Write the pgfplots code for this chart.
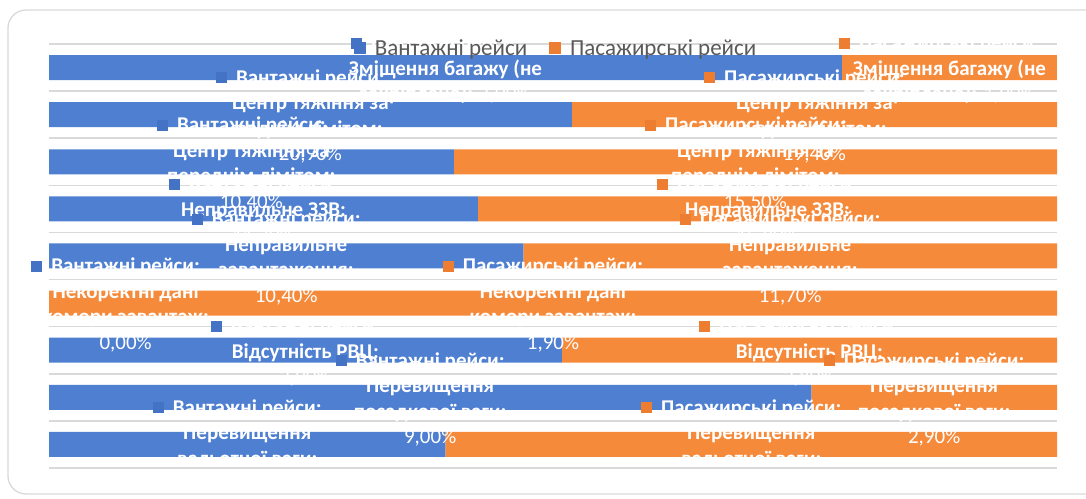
\documentclass[border=0pt]{standalone}
\usepackage{pgfplots}
\pgfplotsset{compat=1.18}
\usepackage{pgfplotstable}
\usepackage{fontspec}
\setmainfont{Carlito}

\definecolor{barblue}{HTML}{4F7FD0}
\definecolor{barorange}{HTML}{F68A3B}
\definecolor{mkblue}{HTML}{4472C4}
\definecolor{mkorange}{HTML}{ED7D31}
\definecolor{gridgray}{HTML}{D9D9D9}
\definecolor{legtext}{HTML}{595959}

% little colour keys that hang left of the first label line
\newcommand\mkb{\llap{\textcolor{mkblue}{\rule[1pt]{11pt}{11pt}}\hspace{9pt}}}
\newcommand\mko{\llap{\textcolor{mkorange}{\rule[1pt]{11pt}{11pt}}\hspace{9pt}}}

% b = Вантажні рейси, o = Пасажирські рейси (values in %)
\pgfplotstableread[col sep=semicolon]{
idx;b;o;bl;ol
1;7.0;1.9;\mkb Вантажні рейси:\\Зміщення багажу (не\\закріплено): {\mdseries 7,00\%};\mko Пасажирські рейси:\\Зміщення багажу (не\\закріплено): {\mdseries 1,90\%}
2;20.9;19.4;\mkb Вантажні рейси:\\Центр тяжіння за\\заднім лімітом:\\{\mdseries 20,90\%};\mko Пасажирські рейси:\\Центр тяжіння за\\заднім лімітом:\\{\mdseries 19,40\%}
3;10.4;15.5;\mkb Вантажні рейси:\\Центр тяжіння за\\переднім лімітом:\\{\mdseries 10,40\%};\mko Пасажирські рейси:\\Центр тяжіння за\\переднім лімітом:\\{\mdseries 15,50\%}
4;11.7;15.8;\mkb Вантажні рейси:\\Неправильне ЗЗВ:\\{\mdseries 11,70\%};\mko Пасажирські рейси:\\Неправильне ЗЗВ:\\{\mdseries 15,80\%}
5;10.4;11.7;\mkb Вантажні рейси:\\Неправильне\\завантаження:\\{\mdseries 10,40\%};\mko Пасажирські рейси:\\Неправильне\\завантаження:\\{\mdseries 11,70\%}
6;0.0;1.9;\mkb Вантажні рейси:\\Некоректні дані\\комори завантаж:\\{\mdseries 0,00\%};\mko Пасажирські рейси:\\Некоректні дані\\комори завантаж:\\{\mdseries 1,90\%}
7;2.9;2.8;\mkb Вантажні рейси:\\Відсутність РВЦ:\\{\mdseries 2,90\%};\mko Пасажирські рейси:\\Відсутність РВЦ:\\{\mdseries 2,80\%}
8;9.0;2.9;\mkb Вантажні рейси:\\Перевищення\\посадкової ваги:\\{\mdseries 9,00\%};\mko Пасажирські рейси:\\Перевищення\\посадкової ваги:\\{\mdseries 2,90\%}
9;5.9;9.1;\mkb Вантажні рейси:\\Перевищення\\вальотної ваги:\\{\mdseries 5,90\%};\mko Пасажирські рейси:\\Перевищення\\вальотної ваги:\\{\mdseries 9,10\%}
}\data

\begin{document}
\begin{tikzpicture}
\useasboundingbox (0,0) rectangle (1086pt,498pt);
\draw[gridgray, line width=1.3pt, rounded corners=18pt] (8pt,4pt) rectangle (1110pt,488pt);

\pgfplotsset{
    common/.style={
        at={(49pt,454pt)}, anchor=north west,
        scale only axis, width=1008pt, height=424pt,
        xmin=0, xmax=100, ymin=0.5, ymax=9.5, y dir=reverse,
    },
    lbl/.style={draw=none, mark=none, nodes near coords, point meta=explicit symbolic,
        every node near coord/.append style={anchor=center, align=center, text=white,
            inner sep=0pt, yshift=-2pt, font=\fontsize{21}{25.5}\selectfont\bfseries}},
}

% bars
\begin{axis}[
    common,
    xbar stacked,
    bar width=25pt,
    axis line style={draw=none},
    xtick=\empty,
    ytick={0.5,1.5,...,9.5},
    yticklabels={},
    major tick length=0pt,
    ymajorgrids,
    grid style={gridgray, line width=1.6pt},
]
    \addplot[fill=barblue, draw=none]
        table[x expr={100*\thisrow{b}/(\thisrow{b}+\thisrow{o})}, y=idx] {\data};
    \addplot[fill=barorange, draw=none]
        table[x expr={100*\thisrow{o}/(\thisrow{b}+\thisrow{o})}, y=idx] {\data};
\end{axis}

% data labels and legend
\begin{axis}[
    common,
    hide axis,
    clip=false,
    legend style={at={(0.503,0.99)}, anchor=center, draw=none, fill=none,
        legend columns=-1, text=legtext,
        font=\fontsize{23}{26}\selectfont,
        /tikz/every even column/.append style={column sep=20pt}},
    legend image code/.code={\fill[#1] (0pt,-6pt) rectangle (12pt,6pt); \path (19pt,0pt);},
]
    \addlegendimage{fill=mkblue, draw=none}
    \addlegendentry{Вантажні рейси}
    \addlegendimage{fill=mkorange, draw=none}
    \addlegendentry{Пасажирські рейси}

    \addplot[lbl] table[x expr={max(50*\thisrow{b}/(\thisrow{b}+\thisrow{o}),7.6)}, y=idx, meta=bl] {\data};
    \addplot[lbl] table[x expr={100-50*\thisrow{o}/(\thisrow{b}+\thisrow{o})}, y=idx, meta=ol] {\data};
\end{axis}
\end{tikzpicture}
\end{document}
